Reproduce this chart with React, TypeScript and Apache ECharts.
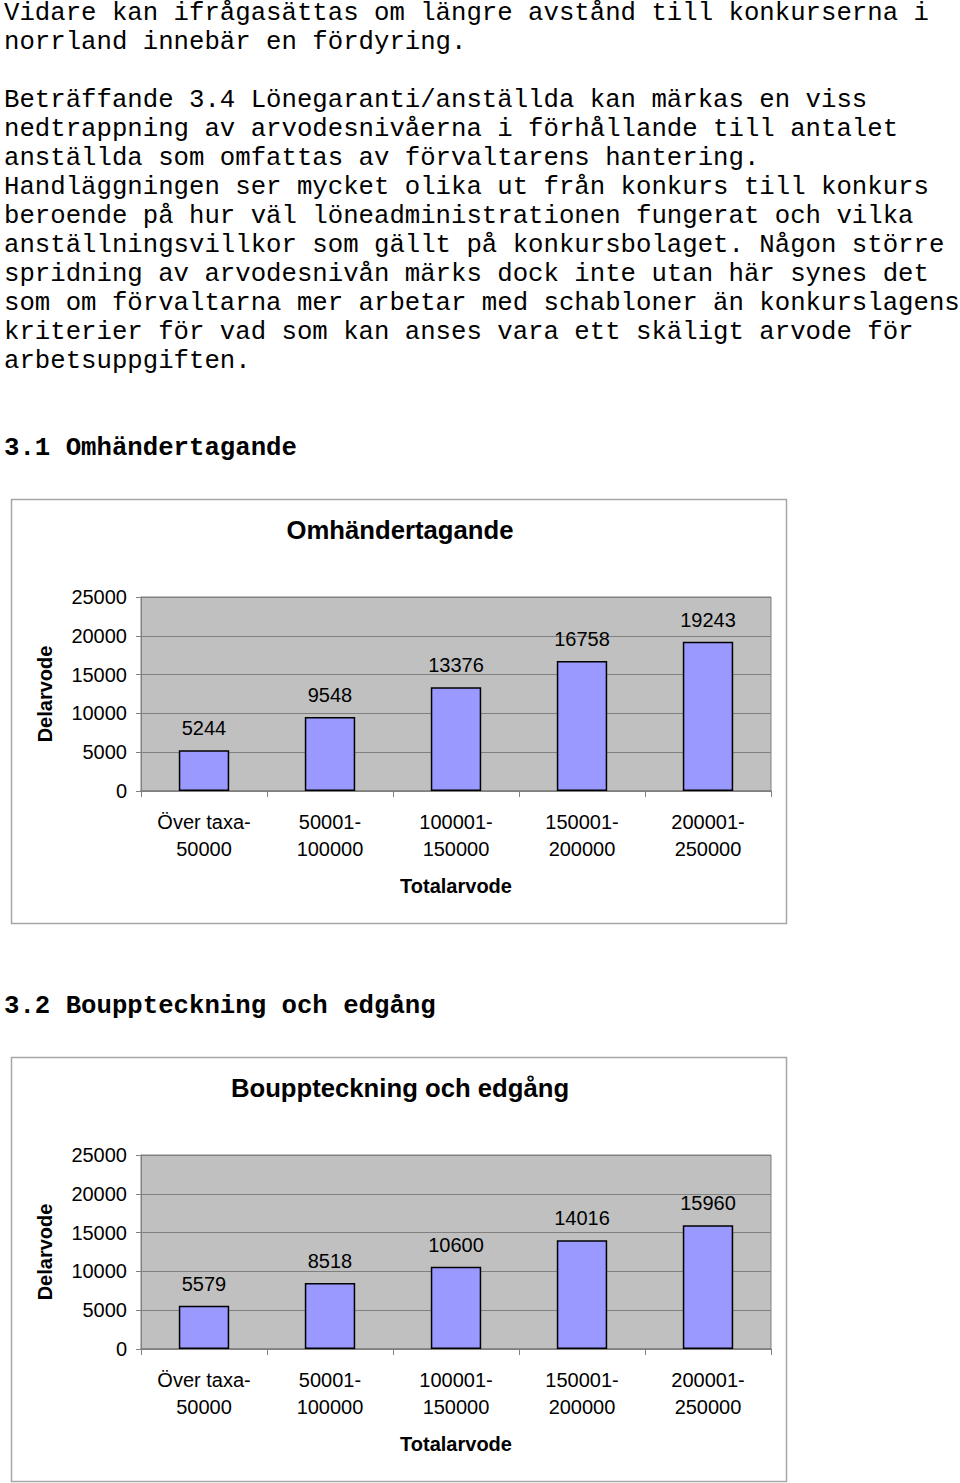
import React, { useEffect, useRef } from "react";
import * as echarts from "echarts";

const bodyLines: string[] = [
  "Vidare kan ifrågasättas om längre avstånd till konkurserna i",
  "norrland innebär en fördyring.",
  "",
  "Beträffande 3.4 Lönegaranti/anställda kan märkas en viss",
  "nedtrappning av arvodesnivåerna i förhållande till antalet",
  "anställda som omfattas av förvaltarens hantering.",
  "Handläggningen ser mycket olika ut från konkurs till konkurs",
  "beroende på hur väl löneadministrationen fungerat och vilka",
  "anställningsvillkor som gällt på konkursbolaget. Någon större",
  "spridning av arvodesnivån märks dock inte utan här synes det",
  "som om förvaltarna mer arbetar med schabloner än konkurslagens",
  "kriterier för vad som kan anses vara ett skäligt arvode för",
  "arbetsuppgiften.",
];

const heading1 = "3.1 Omhändertagande";
const heading2 = "3.2 Bouppteckning och edgång";

const chartTitle1 = "Omhändertagande";
const chartTitle2 = "Bouppteckning och edgång";

const categories: string[] = [
  "Över taxa-\n50000",
  "50001-\n100000",
  "100001-\n150000",
  "150001-\n200000",
  "200001-\n250000",
];

const omhValues: number[] = [5244, 9548, 13376, 16758, 19243];
const bouppValues: number[] = [5579, 8518, 10600, 14016, 15960];

const yTicks = { min: 0, max: 25000, interval: 5000 };
const xAxisName = "Totalarvode";
const yAxisName = "Delarvode";

const MONO = "'Liberation Mono', 'Courier New', monospace";
const SANS = "'Liberation Sans', Arial, sans-serif";

export default function App() {
  const ref = useRef<HTMLDivElement>(null);

  useEffect(() => {
    document.body.style.margin = "0";
    if (!ref.current) return;
    const chart = echarts.init(ref.current, undefined, { renderer: "svg" });

    const offsets = [0, 558];
    const gridTop = 597;
    const gridH = 194;

    const graphic: any[] = [];
    // body text
    bodyLines.forEach((line, i) => {
      if (!line) return;
      graphic.push({
        type: "text",
        x: 4,
        y: 13 + i * 29.0,
        style: {
          text: line,
          fontFamily: MONO,
          fontSize: 25.7,
          fill: "#000",
          align: "left",
          verticalAlign: "middle",
          textAlign: "left",
          textVerticalAlign: "middle",
        },
      });
    });
    [heading1, heading2].forEach((h, i) => {
      graphic.push({
        type: "text",
        x: 4,
        y: 448 + offsets[i],
        style: {
          text: h,
          fontFamily: MONO,
          fontSize: 25.7,
          fontWeight: "bold",
          fill: "#000",
          align: "left",
          verticalAlign: "middle",
          textAlign: "left",
          textVerticalAlign: "middle",
        },
      });
    });
    [chartTitle1, chartTitle2].forEach((t, i) => {
      graphic.push({
        type: "rect",
        z: -10,
        shape: { x: 11.5, y: 499.5 + offsets[i], width: 775, height: 424 },
        style: { fill: "#fff", stroke: "#a6a6a6", lineWidth: 1.5 },
      });
      graphic.push({
        type: "text",
        x: 400,
        y: 530 + offsets[i],
        style: {
          text: t,
          fontFamily: SANS,
          fontSize: 25.7,
          fontWeight: "bold",
          fill: "#000",
          align: "center",
          verticalAlign: "middle",
          textAlign: "center",
          textVerticalAlign: "middle",
        },
      });
    });

    const makeGrid = (i: number) => ({
      left: 141,
      top: gridTop + offsets[i],
      width: 630,
      height: gridH,
      show: true,
      backgroundColor: "#C0C0C0",
      borderColor: "#808080",
      borderWidth: 1,
    });

    const makeX = (i: number) => ({
      type: "category",
      gridIndex: i,
      data: categories,
      axisLine: { show: true, lineStyle: { color: "#808080", width: 1.5 } },
      axisTick: { show: true, alignWithLabel: false, length: 6, lineStyle: { color: "#808080" } },
      axisLabel: {
        color: "#000",
        fontFamily: SANS,
        fontSize: 20,
        lineHeight: 27,
        margin: 17,
        interval: 0,
      },
      name: xAxisName,
      nameLocation: "middle",
      nameGap: 85,
      nameTextStyle: { color: "#000", fontFamily: SANS, fontSize: 20, fontWeight: "bold" },
    });

    const makeY = (i: number) => ({
      type: "value",
      gridIndex: i,
      min: yTicks.min,
      max: yTicks.max,
      interval: yTicks.interval,
      axisLine: { show: true, lineStyle: { color: "#808080" } },
      axisTick: { show: true, length: 5, lineStyle: { color: "#808080" } },
      splitLine: { show: true, lineStyle: { color: "#808080", width: 1 } },
      axisLabel: {
        color: "#000",
        fontFamily: SANS,
        fontSize: 20,
        margin: 14,
        formatter: (v: number) => String(v),
      },
      name: yAxisName,
      nameLocation: "middle",
      nameRotate: 90,
      nameGap: 86,
      nameTextStyle: { color: "#000", fontFamily: SANS, fontSize: 20, fontWeight: "bold" },
    });

    const makeSeries = (i: number, data: number[]) => ({
      type: "bar",
      xAxisIndex: i,
      yAxisIndex: i,
      data,
      barWidth: "40%",
      itemStyle: { color: "#9999FF", borderColor: "#000", borderWidth: 1.5 },
      label: {
        show: true,
        position: "top",
        distance: 12,
        color: "#000",
        fontFamily: SANS,
        fontSize: 20,
      },
    });

    chart.setOption({
      animation: false,
      backgroundColor: "#fff",
      graphic,
      grid: [makeGrid(0), makeGrid(1)],
      xAxis: [makeX(0), makeX(1)],
      yAxis: [makeY(0), makeY(1)],
      series: [makeSeries(0, omhValues), makeSeries(1, bouppValues)],
    });

    return () => chart.dispose();
  }, []);

  return (
    <div
      ref={ref}
      style={{ position: "absolute", left: 0, top: 0, width: 960, height: 1483 }}
    />
  );
}
